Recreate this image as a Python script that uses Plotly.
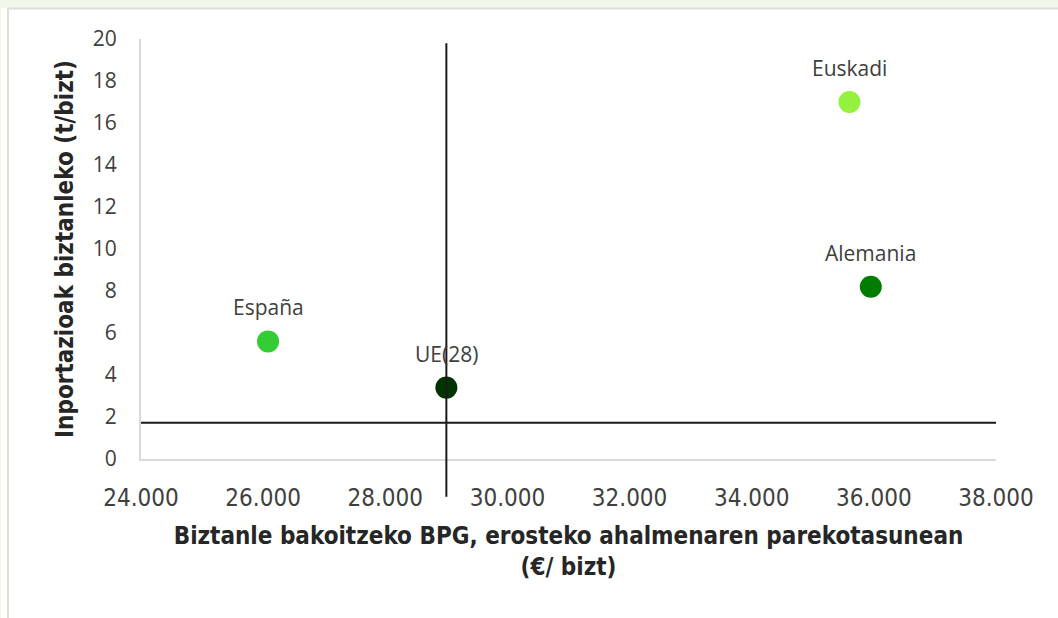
import plotly.graph_objects as go

# ---- data ----
countries = ["Euskadi", "Alemania", "España", "UE(28)"]
gdp_per_capita = [35600, 35950, 26080, 29000]      # €/bizt (PPS)
imports_per_capita = [17.0, 8.2, 5.6, 3.4]        # t/bizt
point_colors = ["#94F23E", "#007D00", "#33CC33", "#003300"]

# reference lines (EU averages)
vline_x = [29000, 29000]
vline_y = [-1.8, 19.8]
hline_x = [24000, 38050]
hline_y = [1.73, 1.73]

x_tick_vals = [24000, 26000, 28000, 30000, 32000, 34000, 36000, 38000]
x_tick_text = ["24.000", "26.000", "28.000", "30.000", "32.000", "34.000", "36.000", "38.000"]
y_tick_vals = [0, 2, 4, 6, 8, 10, 12, 14, 16, 18, 20]
x_range = [24000, 38000]
y_range = [0, 20]

x_title = "Biztanle bakoitzeko BPG, erosteko ahalmenaren parekotasunean<br>(€/ bizt)"
y_title = "Inportazioak biztanleko (t/bizt)"

COND = "Liberation Sans Narrow, DejaVu Sans Condensed, Roboto Condensed, Liberation Sans, sans-serif"

# ---- layout geometry ----
W, H = 1058, 618
ML, MR, MT, MB = 141, 62, 39, 159
PW, PH = W - ML - MR, H - MT - MB


def px_x(px):
    return (px - ML) / PW


def px_y(py):
    return (H - MB - py) / PH


fig = go.Figure()

fig.add_trace(go.Scatter(
    x=gdp_per_capita, y=imports_per_capita, mode="markers",
    marker=dict(size=22, color=point_colors, line=dict(width=0)),
    hovertext=countries, showlegend=False, cliponaxis=False,
))

shapes = []
# page decoration: green band on top, grey frame
shapes.append(dict(type="rect", xref="paper", yref="paper",
                   x0=px_x(0), x1=px_x(W), y0=px_y(8), y1=px_y(0),
                   fillcolor="#F0F8EA", line=dict(width=0), layer="below"))
shapes.append(dict(type="rect", xref="paper", yref="paper",
                   x0=px_x(0), x1=px_x(1.5), y0=px_y(H), y1=px_y(0),
                   fillcolor="#F0F8EA", line=dict(width=0), layer="below"))
shapes.append(dict(type="line", xref="paper", yref="paper",
                   x0=px_x(7), x1=px_x(W), y0=px_y(8.5), y1=px_y(8.5),
                   line=dict(color="#DDDDDD", width=2), layer="below"))
shapes.append(dict(type="line", xref="paper", yref="paper",
                   x0=px_x(8), x1=px_x(8), y0=px_y(8), y1=px_y(H),
                   line=dict(color="#DDDDDD", width=2), layer="below"))

# reference lines
shapes.append(dict(type="line", xref="x", yref="y",
                   x0=hline_x[0], x1=hline_x[1], y0=hline_y[0], y1=hline_y[1],
                   line=dict(color="#1A1A1A", width=2), layer="above"))
yd = lambda v: (v - y_range[0]) / (y_range[1] - y_range[0])
shapes.append(dict(type="line", xref="x", yref="y domain",
                   x0=vline_x[0], x1=vline_x[1], y0=yd(vline_y[0]), y1=yd(vline_y[1]),
                   line=dict(color="#1A1A1A", width=2), layer="above"))

annotations = []
for name, xv, yv in zip(countries, gdp_per_capita, imports_per_capita):
    annotations.append(dict(x=xv, y=yv, xref="x", yref="y", text=name,
                            showarrow=False, yshift=34,
                            font=dict(family="Open Sans", size=21, color="#404040")))

fig.update_layout(
    width=W, height=H,
    margin=dict(l=ML, r=MR, t=MT, b=MB, pad=0),
    paper_bgcolor="white", plot_bgcolor="white",
    shapes=shapes, annotations=annotations,
    xaxis=dict(
        range=x_range, tickvals=x_tick_vals, ticktext=x_tick_text,
        showgrid=False, zeroline=False, showline=True, linecolor="#D9D9D9", linewidth=2,
        ticks="outside", ticklen=16, tickcolor="rgba(0,0,0,0)",
        tickfont=dict(family=COND, size=24, color="#404040"),
        title=dict(text=x_title, standoff=16,
                   font=dict(family=COND, size=24, color="#262626", weight="bold")),
    ),
    yaxis=dict(
        range=y_range, tickvals=y_tick_vals,
        showgrid=False, zeroline=False, showline=True, linecolor="#D9D9D9", linewidth=2,
        ticks="outside", ticklen=18, tickcolor="rgba(0,0,0,0)",
        tickfont=dict(family="Open Sans", size=21, color="#404040"),
        title=dict(text=y_title, standoff=12,
                   font=dict(family=COND, size=24, color="#262626", weight="bold")),
    ),
)

fig.write_html("out.html", config={"displayModeBar": False},
               post_script="document.body.style.margin='0';")
